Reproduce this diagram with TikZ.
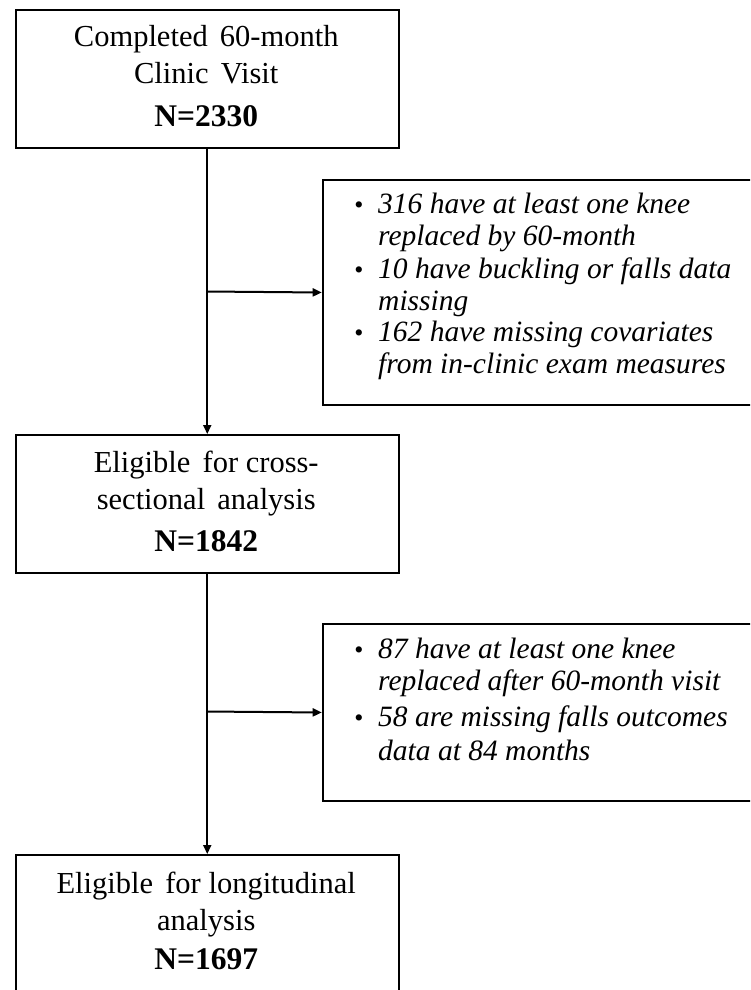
\documentclass[tikz,border=0pt]{standalone}
\usepackage{fontspec}
\setmainfont{Liberation Serif}
\usetikzlibrary{arrows.meta}
\begin{document}
\begin{tikzpicture}[x=1pt,y=-1pt,
  box/.style={draw=black, line width=2pt, inner sep=0pt, anchor=north west},
  arr/.style={line width=2pt, -{Triangle[length=9pt,width=8pt]}},
  ctxt/.style={anchor=base, inner sep=0pt, font=\fontsize{30.5}{36}\selectfont},
  ntxt/.style={anchor=base, inner sep=0pt, font=\fontsize{31.5}{36}\selectfont\bfseries},
  itxt/.style={anchor=base west, inner sep=0pt, font=\fontsize{29.5}{33}\selectfont\itshape},
  bul/.style={anchor=base, inner sep=0pt, font=\fontsize{26}{30}\selectfont}]
\useasboundingbox (0,0) rectangle (750,990);
\clip (0,0) rectangle (750,990);
% boxes
\node[box, minimum width=383.5pt, minimum height=138pt] (b1) at (14.5,9) {};
\node[box, minimum width=440pt, minimum height=225pt] (b2) at (321.7,179) {};
\node[box, minimum width=383.5pt, minimum height=138pt] (b3) at (14.5,434) {};
\node[box, minimum width=440pt, minimum height=177pt] (b4) at (321.7,623) {};
\node[box, minimum width=383.5pt, minimum height=146pt] (b5) at (14.5,854) {};
% connectors
\coordinate (j1) at (206.25,291.5);
\coordinate (j2) at (206.25,711.5);
\draw[arr] (b1.south) -- (b3.north);
\draw[arr] (j1) -- (b2.west);
\draw[arr] (b3.south) -- (b5.north);
\draw[arr] (j2) -- (b4.west);
% box 1 text
\node[ctxt] (t1a) at (206.25,47) {Completed\hspace{0.15em} 60-month};
\node[ctxt] (t1b) at (206.25,84) {Clinic\hspace{0.15em} Visit};
\node[ntxt] (t1c) at (206.25,126) {N=2330};
% box 3 text
\node[ctxt] (t3a) at (206.25,472) {Eligible\hspace{0.15em} for cross-};
\node[ctxt] (t3b) at (206.25,509) {sectional\hspace{0.15em} analysis};
\node[ntxt] (t3c) at (206.25,551) {N=1842};
% box 5 text
\node[ctxt] (t5a) at (206.25,893) {Eligible\hspace{0.15em} for longitudinal};
\node[ctxt] (t5b) at (206.25,930) {analysis};
\node[ntxt] (t5c) at (206.25,969) {N=1697};
% box 2 text
\node[bul] (u2a) at (359,213.3) {\textbullet};
\node[itxt] (t2a) at (378,213.3) {316 have at least one knee};
\node[itxt] (t2b) at (378,245) {replaced by 60-month};
\node[bul] (u2b) at (359,278) {\textbullet};
\node[itxt] (t2c) at (378,278) {10 have buckling or falls data};
\node[itxt] (t2d) at (378,310) {missing};
\node[bul] (u2c) at (359,341.7) {\textbullet};
\node[itxt] (t2e) at (378,341.7) {162 have missing covariates};
\node[itxt] (t2f) at (378,373) {from in-clinic exam measures};
% box 4 text
\node[bul] (u4a) at (359,658) {\textbullet};
\node[itxt] (t4a) at (378,658) {87 have at least one knee};
\node[itxt] (t4b) at (378,690) {replaced after 60-month visit};
\node[bul] (u4b) at (359,726.7) {\textbullet};
\node[itxt] (t4c) at (378,726.7) {58 are missing falls outcomes};
\node[itxt] (t4d) at (378,760) {data at 84 months};
\end{tikzpicture}
\end{document}
